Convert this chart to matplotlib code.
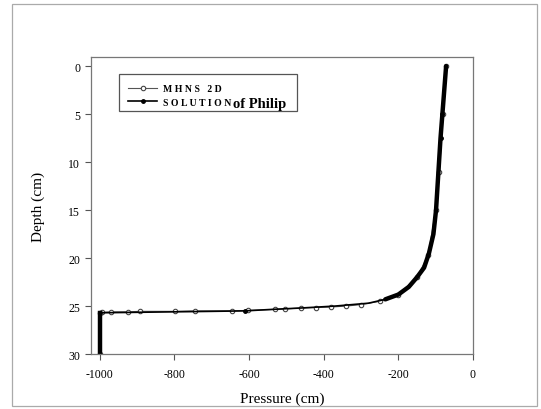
import numpy as np
import matplotlib.pyplot as plt
from matplotlib.patches import Rectangle

plt.rcParams['font.family'] = ['Liberation Serif', 'DejaVu Serif']
plt.rcParams['axes.unicode_minus'] = False

# Solution of Philip (pressure cm, depth cm)
philip_p = [-72, -77, -82, -87, -91, -95, -99, -106, -118, -131, -150, -172, -200,
            -235, -280, -370, -460, -540, -610, -700, -800, -900, -1000, -1000]
philip_d = [0, 2.5, 5, 7.5, 10, 12.5, 15, 17.5, 19.5, 21, 22, 23, 23.8,
            24.3, 24.7, 25.0, 25.2, 25.35, 25.5, 25.55, 25.6, 25.65, 25.7, 30]

# MHNS 2D simulation
mhns_p = [-72, -80, -90, -100, -120, -150, -200, -250, -300, -340, -380, -420, -461,
          -504, -531, -604, -645, -745, -797, -892, -925, -970, -993, -1000, -1000]
mhns_d = [0, 5, 11, 15, 19.7, 22, 23.8, 24.5, 24.85, 25.0, 25.1, 25.15, 25.2,
          25.3, 25.35, 25.45, 25.5, 25.5, 25.55, 25.55, 25.6, 25.6, 25.65, 25.7, 30]

xticks = [-1000, -800, -600, -400, -200, 0]
yticks = [0, 5, 10, 15, 20, 25, 30]

fig = plt.figure(figsize=(5.41, 4.10), dpi=100)
ax = fig.add_axes([0.1677, 0.134, 0.7066, 0.7245])

ax.plot(mhns_p, mhns_d, color='#555555', lw=0.8, marker='o', ms=3.2,
        mfc='white', mec='#444444', mew=0.8, label='M H N S   2 D')
ax.plot(philip_p, philip_d, color='black', lw=1.2, marker='o', ms=2.5,
        markevery=[2, 3, 18], label='S O L U T I O N')
# the steep parts of the curve look much heavier in the original
ax.plot(philip_p[:14], philip_d[:14], color='black', lw=3.2, solid_capstyle='round')
ax.plot(philip_p[-2:], philip_d[-2:], color='black', lw=3.2)

ax.set_xlim(-1024, 0)
ax.set_ylim(30, -0.95)
ax.set_xticks(xticks)
ax.set_yticks(yticks)
ax.tick_params(direction='out', length=4, width=0.8, color='#555555', labelsize=8.5)
ax.tick_params(axis='x', pad=6)
for s in ax.spines.values():
    s.set_color('#777777')
    s.set_linewidth(0.9)

ax.set_xlabel('Pressure (cm)', fontsize=11, labelpad=8)
ax.set_ylabel('Depth (cm)', fontsize=11, labelpad=17)

# legend box
ax.add_patch(Rectangle((0.074, 0.818), 0.465, 0.125, transform=ax.transAxes,
                       fill=False, ec='#555555', lw=0.9))
leg = ax.legend(loc='upper left', bbox_to_anchor=(0.085, 0.925), frameon=False,
                handlelength=3.0, handletextpad=0.6,
                labelspacing=0.45, borderpad=0, prop={'weight': 'bold', 'size': 7})
fig.canvas.draw()
ax.annotate('of Philip', xy=(1, 0.35), xycoords=leg.get_texts()[1],
            xytext=(1, 0), textcoords='offset points', va='center',
            fontsize=10.5, fontweight='bold')

# outer frame
fig.add_artist(Rectangle((12 / 541, 3 / 410), 525 / 541, 402 / 410,
                         transform=fig.transFigure, fill=False, ec='#aaaaaa', lw=0.9))

fig.savefig('out.png', dpi=100)
